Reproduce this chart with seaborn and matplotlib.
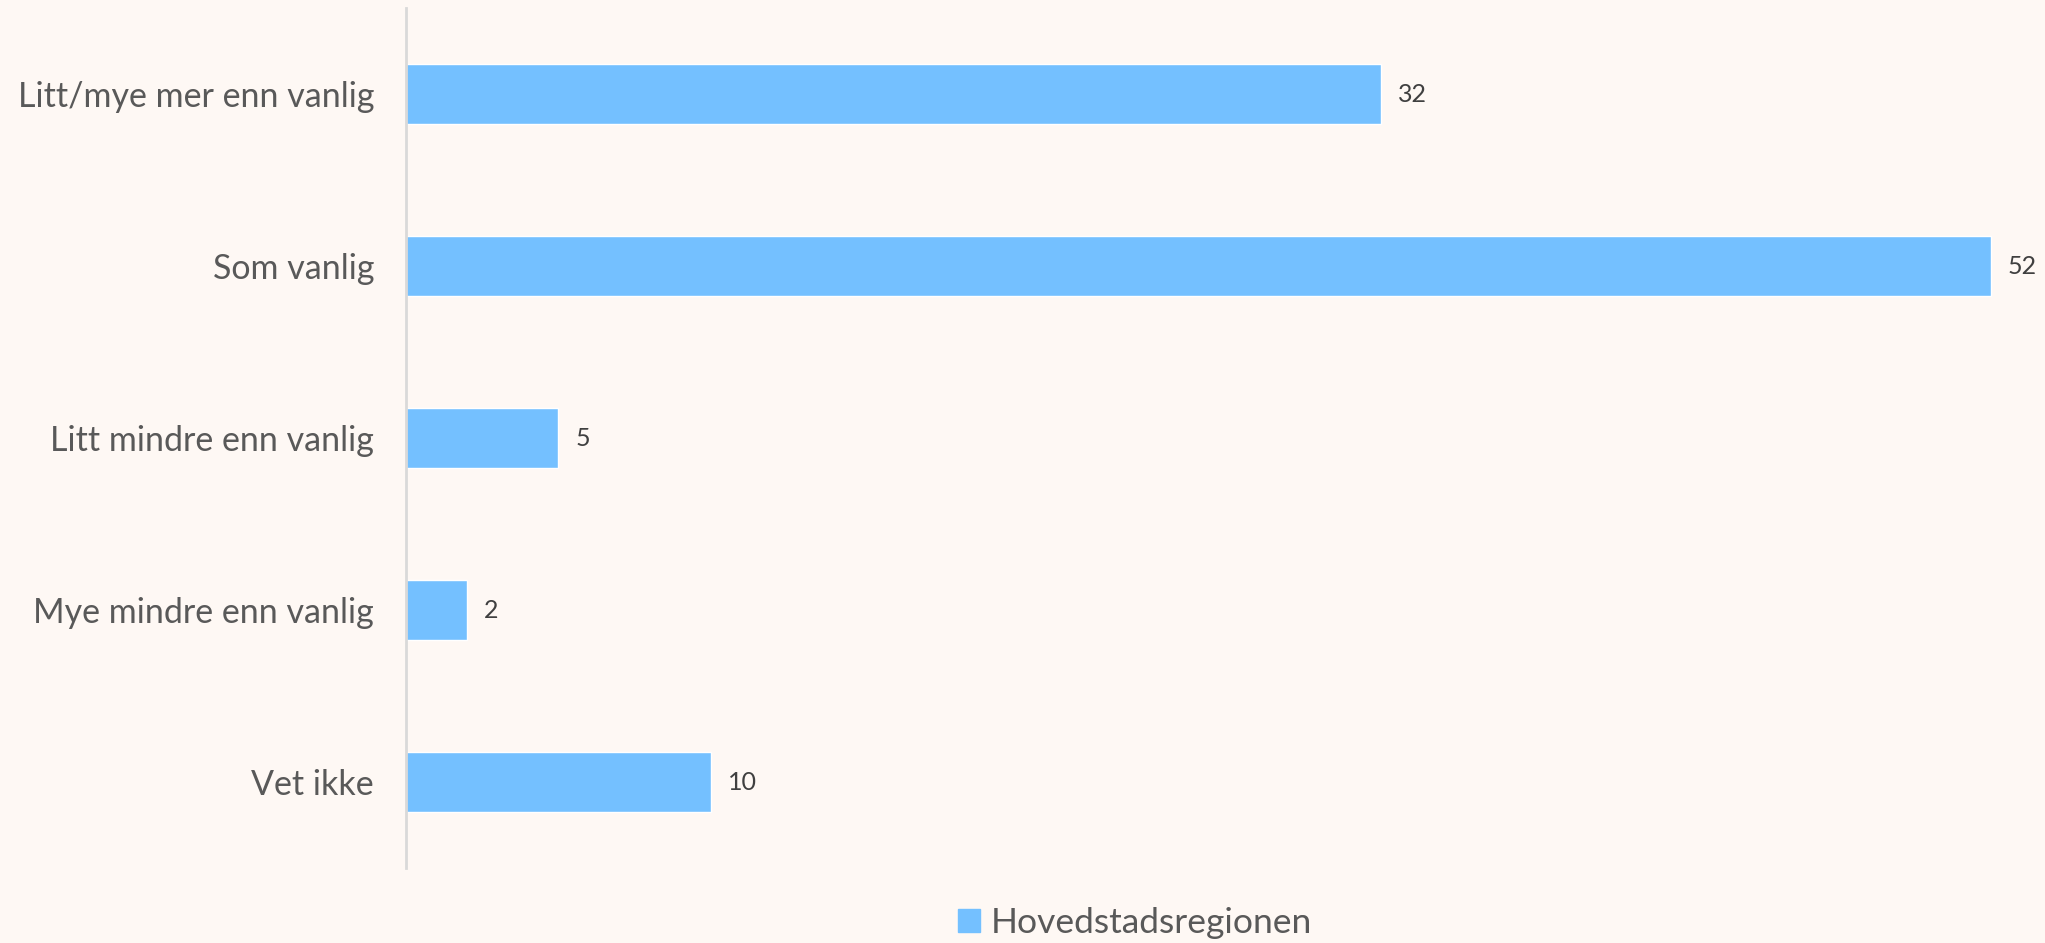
import matplotlib
matplotlib.use("Agg")
import matplotlib.pyplot as plt
import seaborn as sns
import pandas as pd

# data
categories = ["Litt/mye mer enn vanlig", "Som vanlig", "Litt mindre enn vanlig",
              "Mye mindre enn vanlig", "Vet ikke"]
values = [32, 52, 5, 2, 10]
series_name = "Hovedstadsregionen"

bg = "#FEF8F4"
bar_color = "#74C0FF"

sns.set_style("white")
plt.rcParams["font.family"] = ["Lato", "DejaVu Sans"]

df = pd.DataFrame({"kategori": categories, "verdi": values, "serie": series_name})

fig = plt.figure(figsize=(20.45, 9.43), dpi=100, facecolor=bg)
ax = fig.add_axes([406 / 2045, 1 - 868 / 943, 1 - 406 / 2045, 860 / 943])
ax.set_facecolor(bg)

sns.barplot(data=df, x="verdi", y="kategori", hue="serie", palette=[bar_color],
            width=0.35, orient="h", ax=ax, saturation=1, legend=False)

ax.set_xlim(0, 53.77)
ax.set_ylim(4.5, -0.5)
ax.set_xlabel("")
ax.set_ylabel("")
ax.set_xticks([])
for side in ["top", "right", "bottom"]:
    ax.spines[side].set_visible(False)
ax.spines["left"].set_color("#D9D9D9")
ax.spines["left"].set_linewidth(2)
ax.tick_params(axis="y", length=0, pad=23, labelsize=24.5, labelcolor="#595959")

for c in ax.containers:
    ax.bar_label(c, padding=12, fontsize=18, color="#404040")

handle = plt.Rectangle((0, 0), 1, 1, color=bar_color)
fig.legend([handle], [series_name], loc="center", bbox_to_anchor=(1135 / 2045, 1 - 923 / 943),
           frameon=False, fontsize=25.5, labelcolor="#595959", handlelength=0.6, handleheight=0.6,
           handletextpad=0.3)

fig.savefig("out.png", dpi=100, facecolor=bg)
